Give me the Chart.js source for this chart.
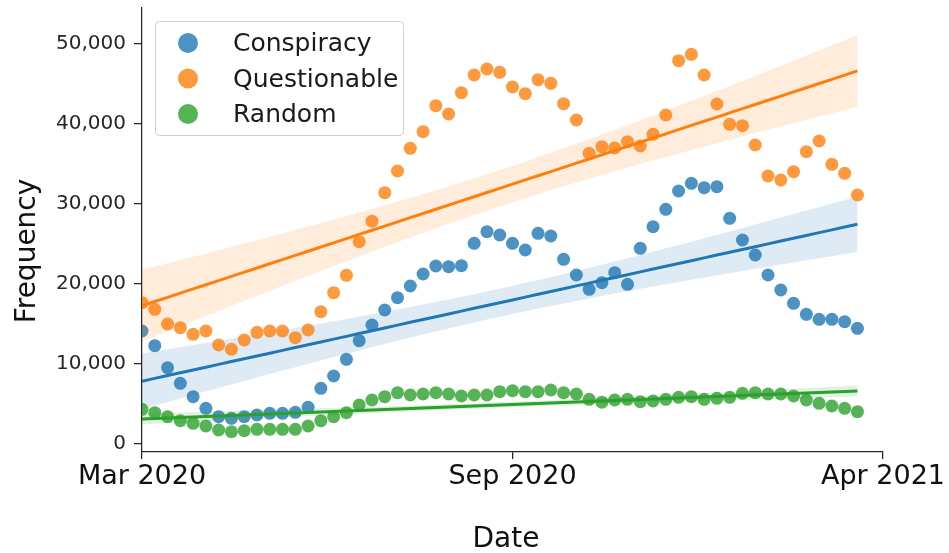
<!DOCTYPE html>
<html>
<head>
<meta charset="utf-8">
<title>Weekly frequency</title>
<script src="https://cdn.jsdelivr.net/npm/chart.js@4.4.1/dist/chart.umd.min.js"></script>
<style>
    html, body { margin: 0; padding: 0; background: #fff; }
    #chart { display: block; }
</style>
</head>
<body>
<canvas id="chart" width="949" height="553" style="width:949px;height:553px"></canvas>
<script>
// Weekly counts, first point = first week of March 2020
const conspiracy = [
    14125, 12290, 9540, 7580, 5920, 4460, 3420, 3210, 3420, 3625,
    3830, 3830, 3960, 4580, 6960, 8500, 10580, 12920, 14875, 16750,
    18290, 19750, 21250, 22250, 22170, 22290, 25080, 26540, 26125, 25080,
    24250, 26330, 26000, 23080, 21125, 19330, 20170, 21420, 19960, 24460,
    27170, 29330, 31625, 32580, 32040, 32170, 28210, 25500, 23625, 21125,
    19250, 17580, 16210, 15580, 15580, 15290, 14460
];
const questionable = [
    17670, 16830, 15000, 14540, 13710, 14125, 12375, 11830, 13000, 13960,
    14125, 14125, 13290, 14250, 16540, 18920, 21080, 25290, 27850, 31420,
    34125, 36960, 39040, 42290, 41250, 43920, 46125, 46875, 46460, 44625,
    43790, 45540, 45080, 42540, 40500, 36330, 37170, 37000, 37790, 37250,
    38710, 41125, 47920, 48710, 46125, 42500, 39960, 39790, 37375, 33500,
    33000, 34040, 36540, 37875, 34960, 33830, 31125
];
const random = [
    4330, 3920, 3420, 2920, 2580, 2250, 1750, 1540, 1670, 1830,
    1830, 1830, 1830, 2250, 2920, 3420, 3920, 4875, 5500, 5920,
    6420, 6125, 6250, 6420, 6250, 6000, 6125, 6125, 6540, 6670,
    6540, 6540, 6750, 6420, 6250, 5580, 5230, 5500, 5580, 5290,
    5375, 5580, 5830, 5920, 5580, 5710, 5830, 6330, 6420, 6250,
    6250, 6000, 5500, 5080, 4750, 4460, 4040
];

const seriesNames = ['Conspiracy', 'Questionable', 'Random'];
const seriesValues = [conspiracy, questionable, random];
const seriesRgb = ['31,119,180', '255,127,14', '44,160,44'];

// x axis: week index, labelled at three positions
const xTickPos = [0, 29, 58];
const xTickLabels = ['Mar 2020', 'Sep 2020', 'Apr 2021'];
const yTicks = [0, 10000, 20000, 30000, 40000, 50000];

const TEXT = '#262626';
const FONT = 'DejaVu Sans';

// OLS fit with 95% confidence band (like seaborn regplot)
function fitLine(ys) {
    const n = ys.length;
    const xs = ys.map((_, i) => i);
    const mx = xs.reduce((a, b) => a + b, 0) / n;
    const my = ys.reduce((a, b) => a + b, 0) / n;
    let sxx = 0, sxy = 0;
    xs.forEach((x, i) => {
        sxx += (x - mx) ** 2;
        sxy += (x - mx) * (ys[i] - my);
    });
    const slope = sxy / sxx;
    const icept = my - slope * mx;
    let sse = 0;
    xs.forEach((x, i) => { sse += (ys[i] - icept - slope * x) ** 2; });
    const s = Math.sqrt(sse / (n - 2));
    const t = 2.004;
    const line = [], upper = [], lower = [];
    xs.forEach(x => {
        const yhat = icept + slope * x;
        const half = t * s * Math.sqrt(1 / n + (x - mx) ** 2 / sxx);
        line.push({ x: x, y: yhat });
        upper.push({ x: x, y: yhat + half });
        lower.push({ x: x, y: yhat - half });
    });
    return { line, upper, lower };
}

// build datasets; later series are drawn above earlier ones
const datasets = [];
seriesValues.forEach((vals, k) => {
    const rgb = seriesRgb[k];
    const fit = fitLine(vals);
    const base = 30 - k * 10;
    datasets.push({
        type: 'scatter',
        label: seriesNames[k],
        data: vals.map((v, i) => ({ x: i, y: v })),
        backgroundColor: 'rgba(' + rgb + ',0.8)',
        borderWidth: 0,
        pointRadius: 6.5,
        order: base
    });
    datasets.push({
        type: 'line',
        data: fit.upper,
        borderColor: 'rgba(0,0,0,0)',
        backgroundColor: 'rgba(' + rgb + ',0.15)',
        pointRadius: 0,
        fill: '+1',
        order: base - 1
    });
    datasets.push({
        type: 'line',
        data: fit.lower,
        borderColor: 'rgba(0,0,0,0)',
        pointRadius: 0,
        fill: false,
        order: base - 1
    });
    datasets.push({
        type: 'line',
        data: fit.line,
        borderColor: 'rgb(' + rgb + ')',
        borderWidth: 3,
        pointRadius: 0,
        fill: false,
        order: base - 2
    });
});

// legend box and axis titles
const decorations = {
    id: 'decorations',
    afterDraw: function(chart) {
        const ctx = chart.ctx;
        ctx.save();

        // legend
        ctx.beginPath();
        ctx.roundRect(155.5, 21.5, 248, 114, 4);
        ctx.fillStyle = 'rgba(255,255,255,0.8)';
        ctx.fill();
        ctx.strokeStyle = '#d0d0d0';
        ctx.lineWidth = 1;
        ctx.stroke();
        ctx.font = '25px "' + FONT + '"';
        ctx.textAlign = 'left';
        ctx.textBaseline = 'alphabetic';
        seriesNames.forEach((name, k) => {
            const cy = 43 + k * 35.5;
            ctx.beginPath();
            ctx.arc(188, cy, 10, 0, Math.PI * 2);
            ctx.fillStyle = 'rgba(' + seriesRgb[k] + ',0.8)';
            ctx.fill();
            ctx.fillStyle = '#1a1a1a';
            ctx.fillText(name, 233, cy + 8);
        });

        // axis titles
        ctx.fillStyle = '#111';
        ctx.font = '28px "' + FONT + '"';
        ctx.textAlign = 'center';
        ctx.fillText('Date', 506, 547);
        ctx.translate(35, 251);
        ctx.rotate(-Math.PI / 2);
        ctx.fillText('Frequency', 0, 0);

        ctx.restore();
    }
};

Chart.defaults.font.family = FONT;

new Chart(document.getElementById('chart'), {
    type: 'scatter',
    data: { datasets: datasets },
    options: {
        responsive: false,
        animation: false,
        layout: { padding: { top: 8, right: 66, bottom: 0, left: 0 } },
        plugins: {
            legend: { display: false },
            tooltip: { enabled: false }
        },
        scales: {
            x: {
                type: 'linear',
                min: 0,
                max: 58,
                afterBuildTicks: function(scale) {
                    scale.ticks = xTickPos.map(v => ({ value: v }));
                },
                afterFit: function(scale) {
                    scale.height = 101;
                    scale.paddingLeft = 0;
                    scale.paddingRight = 0;
                },
                ticks: {
                    callback: function(value) { return xTickLabels[xTickPos.indexOf(value)]; },
                    font: { family: FONT, size: 27 },
                    color: '#111',
                    padding: 2,
                    maxRotation: 0,
                    autoSkip: false
                },
                grid: { drawOnChartArea: false, tickLength: 7, color: TEXT, lineWidth: 1.25 },
                border: { color: TEXT, width: 1.25 }
            },
            y: {
                min: -1000,
                max: 54500,
                afterBuildTicks: function(scale) {
                    scale.ticks = yTicks.map(v => ({ value: v }));
                },
                afterFit: function(scale) {
                    scale.width = 142;
                    scale.paddingTop = 0;
                    scale.paddingBottom = 0;
                },
                ticks: {
                    callback: function(value) { return value.toLocaleString('en-US'); },
                    font: { family: FONT, size: 20 },
                    color: TEXT,
                    padding: 8
                },
                grid: { drawOnChartArea: false, tickLength: 8, color: TEXT, lineWidth: 1.25 },
                border: { color: TEXT, width: 1.25 }
            }
        }
    },
    plugins: [decorations]
});
</script>
</body>
</html>
